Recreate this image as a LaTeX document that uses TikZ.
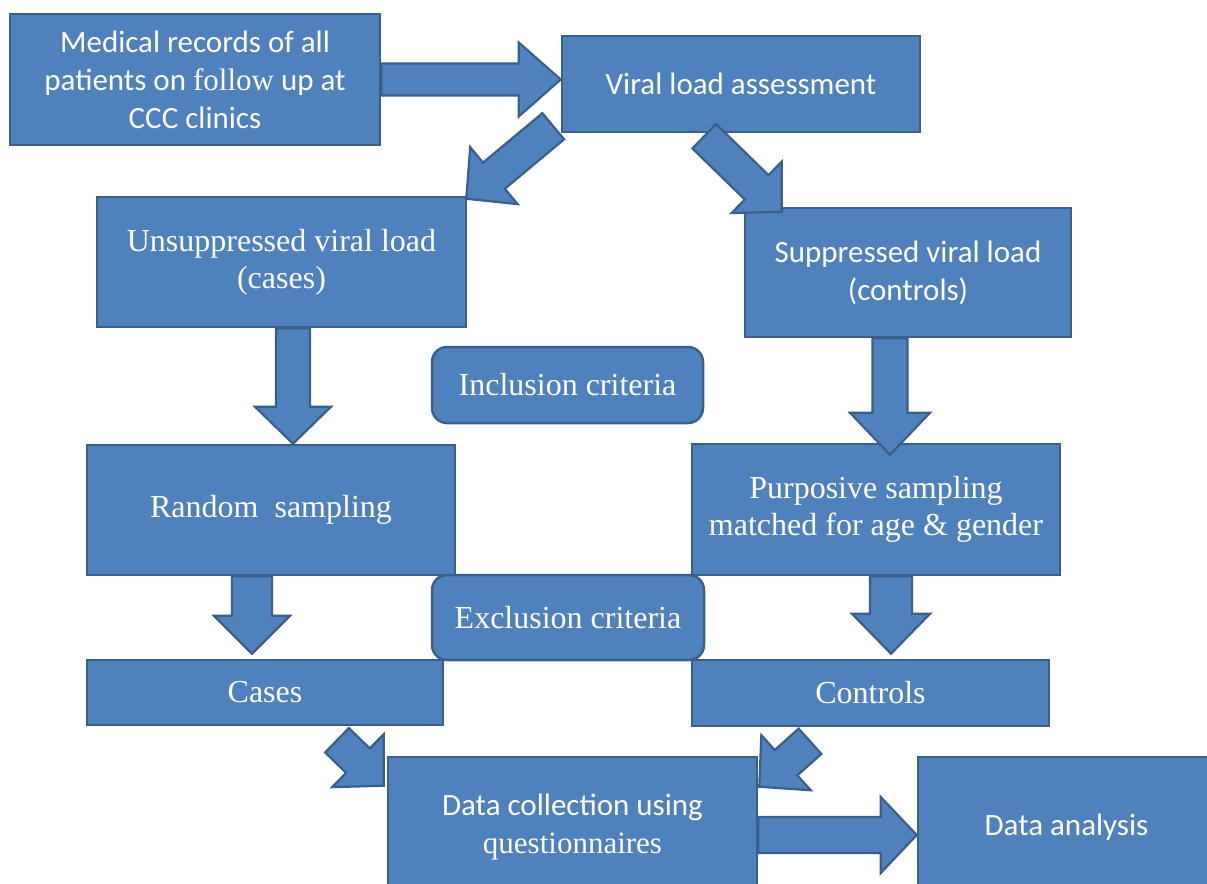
\documentclass[tikz,border=0pt]{standalone}
\usepackage{fontspec}
\setmainfont{Liberation Serif}
\newfontfamily\calfont{Carlito}
\newfontfamily\serfont{Liberation Serif}
\usetikzlibrary{calc}
\definecolor{boxfill}{HTML}{4F81BD}
\definecolor{boxline}{HTML}{3A5F8B}
\tikzset{
  box/.style={draw=boxline, fill=boxfill, line width=2.5bp, text=white, align=center, inner sep=0pt},
  rbox/.style={box, rounded corners=15bp},
  arrowbox/.style={draw=boxline, fill=boxfill, line width=2.2bp, line join=miter},
  calt/.style={font=\calfont\fontsize{31bp}{38bp}\selectfont},
  sert/.style={font=\serfont\fontsize{32bp}{37bp}\selectfont}
}
\newcommand{\blockarr}[5]{%
  \coordinate (ba-b) at ($(#2)!#5bp!(#1)$);
  \draw[arrowbox] ($(#1)!#3bp!90:(#2)$) -- ($(ba-b)!#3bp!-90:(#1)$) -- ($(ba-b)!#4bp!-90:(#1)$) -- (#2) -- ($(ba-b)!#4bp!90:(#1)$) -- ($(ba-b)!#3bp!90:(#1)$) -- ($(#1)!#3bp!-90:(#2)$) -- cycle;}
\begin{document}
\begin{tikzpicture}[x=1bp, y=-1bp]
\useasboundingbox (0,0) rectangle (1207,884);
\clip (0,0) rectangle (1207,884);
% boxes
\node[box, calt, minimum width=370bp, minimum height=131bp] (med) at (195,79.5) {Medical records of all\\patients on {\serfont follow} up at\\CCC clinics};
\node[box, calt, minimum width=358bp, minimum height=96bp] (viral) at (741,84) {Viral load assessment};
\node[box, sert, minimum width=369bp, minimum height=130bp] (unsup) at (281.5,262) {Unsuppressed viral load\\(cases)};
\node[box, calt, minimum width=326bp, minimum height=129bp] (sup) at (908,272.5) {Suppressed viral load\\(controls)};
\node[rbox, sert, minimum width=271bp, minimum height=76bp] (incl) at (567.5,385) {Inclusion criteria};
\node[box, sert, minimum width=368bp, minimum height=130bp] (random) at (271,510) {Random\ \ sampling};
\node[box, sert, minimum width=368bp, minimum height=131bp] (purp) at (876,509.5) {Purposive sampling\\matched for age \& gender};
\node[box, sert, minimum width=356bp, minimum height=65bp] (cases) at (265,692.5) {Cases};
\node[box, sert, minimum width=357bp, minimum height=66bp] (controls) at (870.5,693) {Controls};
\node[rbox, sert, minimum width=272bp, minimum height=85bp] (excl) at (568,617.5) {Exclusion criteria};
\node[box, minimum width=369bp, minimum height=140bp, font=\fontsize{31bp}{38bp}\selectfont] (coll) at (572.5,827) {{\calfont Data collection using}\\{\serfont questionnaires}};
\node[box, calt, minimum width=297bp, minimum height=140bp] (anal) at (1066.5,827) {Data analysis};
% arrow end points
\coordinate (s1) at (med.east);
\coordinate (e1) at (viral.west |- med.east);
\coordinate (s2) at ($(viral.south west)+(-7.5,-7)$);
\coordinate (e2) at ($(unsup.north east)+(-1,3)$);
\coordinate (s3) at ($(viral.south west)+(143.5,3)$);
\coordinate (e3) at ($(sup.north west)+(38,5)$);
\coordinate (s4) at ($(unsup.south)+(11.5,0)$);
\coordinate (e4) at ($(random.north)+(22,0)$);
\coordinate (s5) at ($(sup.south)+(-18,0)$);
\coordinate (e5) at ($(purp.north)+(14,12)$);
\coordinate (s6) at ($(random.south)+(-19,0)$);
\coordinate (e6) at ($(cases.north)+(-13,-5)$);
\coordinate (s7) at ($(purp.south)+(15,0)$);
\coordinate (e7) at ($(controls.north)+(20.5,-5)$);
\coordinate (s8) at ($(cases.south)+(72,14)$);
\coordinate (e8) at ($(coll.north west)+(-3,30)$);
\coordinate (s9) at ($(controls.south)+(-60.5,14)$);
\coordinate (e9) at ($(coll.north east)+(1,31)$);
\coordinate (s10) at (coll.east |- 0,835);
\coordinate (e10) at (anal.west |- 0,835);
% arrows
\blockarr{s1}{e1}{16}{37}{42}
\blockarr{s2}{e2}{17}{37}{36}
\blockarr{s3}{e3}{17}{36}{35}
\blockarr{s4}{e4}{17}{38}{37}
\blockarr{s5}{e5}{17.5}{40}{42}
\blockarr{s6}{e6}{20}{38}{38}
\blockarr{s7}{e7}{21}{39}{40}
\blockarr{s8}{e8}{17}{37}{36}
\blockarr{s9}{e9}{17}{37}{36}
\blockarr{s10}{e10}{18}{38}{36}
\end{tikzpicture}
\end{document}
